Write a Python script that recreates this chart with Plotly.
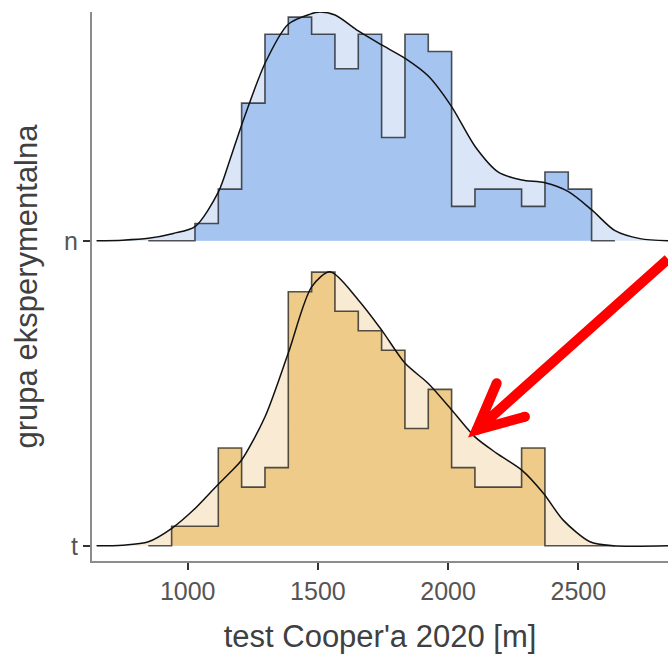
import plotly.graph_objects as go

# ---------------- data ----------------
groups = ["t", "n"]                     # y categories (bottom -> top)
group_pos = {"t": 1, "n": 2}

bin_start = 848.7                       # first histogram bin edge [m]
bin_width = 89.6                        # histogram bin width [m]
counts_n = [0, 0, 1, 3, 8, 12, 13, 12, 10, 12, 6, 12, 11, 2, 3, 3, 2, 4, 3, 0]
counts_t = [0, 1, 1, 5, 3, 4, 13, 14, 12, 11, 10, 6, 8, 4, 3, 3, 5, 0, 0, 0]

# density curves (height in ridge units)
dens_x_n = [650, 750, 849, 945, 1028, 1118, 1162, 1207, 1297, 1386, 1470, 1508, 1566,
            1655, 1745, 1835, 1924, 2014, 2103, 2193, 2283, 2372, 2462, 2552, 2641,
            2737, 2845]
dens_h_n = [0.0, 0.002, 0.008, 0.024, 0.046, 0.160, 0.265, 0.379, 0.582, 0.710, 0.743,
            0.750, 0.740, 0.688, 0.642, 0.598, 0.540, 0.439, 0.310, 0.225, 0.199,
            0.190, 0.161, 0.101, 0.033, 0.007, 0.0]

dens_x_t = [650, 750, 849, 939, 1022, 1111, 1159, 1207, 1297, 1386, 1476, 1547, 1655,
            1745, 1835, 1924, 2014, 2103, 2187, 2283, 2366, 2442, 2545, 2634, 2845]
dens_h_t = [0.0, 0.002, 0.013, 0.057, 0.117, 0.196, 0.237, 0.281, 0.423, 0.631, 0.849,
            0.898, 0.806, 0.707, 0.598, 0.532, 0.445, 0.357, 0.303, 0.248, 0.172,
            0.084, 0.013, 0.0, 0.0]

x_ticks = [1000, 1500, 2000, 2500]
x_title = "test Cooper'a 2020 [m]"
y_title = "grupa eksperymentalna"

# ---------------- style ----------------
HIST_SCALE = 6.6
X_RANGE = [632.5, 2844.5]
Y_RANGE = [0.95, 2.75]
FONT = "Liberation Sans, Arial, sans-serif"
colors = {
    "n": {"dark": "#A5C4F0", "light": "#DAE5F7"},
    "t": {"dark": "#EECB88", "light": "#F8EAD3"},
}

data = {
    "n": (counts_n, dens_x_n, dens_h_n),
    "t": (counts_t, dens_x_t, dens_h_t),
}

fig = go.Figure()

for g in ["n", "t"]:
    counts, dx, dh = data[g]
    b = group_pos[g]
    N = sum(counts)
    edges = [bin_start + i * bin_width for i in range(len(counts) + 1)]
    hx = [edges[0]] + edges[1:] + [edges[-1]]
    hy = [b] + [b + HIST_SCALE * c / N for c in counts] + [b]

    # baseline for density fill
    fig.add_trace(go.Scatter(x=[X_RANGE[0], X_RANGE[1]], y=[b, b], mode="lines",
                             line=dict(width=0, color="rgba(0,0,0,0)"),
                             hoverinfo="skip", showlegend=False))
    # light density fill
    fig.add_trace(go.Scatter(x=dx, y=[b + v for v in dh], mode="lines",
                             line=dict(width=0, shape="spline", smoothing=0.8,
                                       color="rgba(0,0,0,0)"),
                             fill="tonexty", fillcolor=colors[g]["light"],
                             hoverinfo="skip", showlegend=False))
    # histogram fill
    fig.add_trace(go.Scatter(x=hx, y=hy, mode="lines",
                             line=dict(width=0, shape="vh", color="rgba(0,0,0,0)"),
                             fill="toself", fillcolor=colors[g]["dark"],
                             hoverinfo="skip", showlegend=False))
    # histogram outline
    fig.add_trace(go.Scatter(x=hx, y=hy, mode="lines",
                             line=dict(width=1.6, shape="vh", color="rgba(20,20,20,0.72)"),
                             hoverinfo="skip", showlegend=False))
    # density line
    fig.add_trace(go.Scatter(x=dx, y=[b + v for v in dh], mode="lines",
                             line=dict(width=1.5, shape="spline", smoothing=0.8,
                                       color="#111111"),
                             hoverinfo="skip", showlegend=False))

# red arrow annotation (paper coordinates)
red = "#FF0000"
tip = (0.6679, 0.2386)
tail = (1.0, 0.5501)
arm1 = (0.7026, 0.3237)
arm2 = (0.7517, 0.2628)
path = (f"M {tail[0]},{tail[1]} L {tip[0]},{tip[1]} "
        f"M {arm1[0]},{arm1[1]} L {tip[0]},{tip[1]} L {arm2[0]},{arm2[1]}")
shapes = [dict(type="path", xref="paper", yref="paper", path=path,
               line=dict(color=red, width=10))]
for (px, py) in [tip, arm1, arm2]:
    shapes.append(dict(type="circle", xref="paper", yref="paper",
                       xsizemode="pixel", ysizemode="pixel", xanchor=px, yanchor=py,
                       x0=-5, x1=5, y0=-5, y1=5, fillcolor=red,
                       line=dict(width=0)))

fig.update_layout(
    width=668, height=656,
    margin=dict(l=92, r=0, t=12, b=95),
    paper_bgcolor="white", plot_bgcolor="white",
    font=dict(family=FONT, color="#4D4D4D"),
    shapes=shapes,
    showlegend=False,
    xaxis=dict(range=X_RANGE, tickvals=x_ticks, ticktext=[str(v) for v in x_ticks],
               showgrid=False, zeroline=False, showline=True, linecolor="#8C8C8C",
               linewidth=2, ticks="outside", ticklen=7, tickwidth=2, tickcolor="#333333",
               tickfont=dict(size=25, color="#555555", family=FONT),
               title=dict(text=x_title, font=dict(size=31, color="#404040", family=FONT),
                          standoff=21)),
    yaxis=dict(range=Y_RANGE, tickvals=[group_pos[g] for g in groups], ticktext=groups,
               showgrid=False, zeroline=False, showline=True, linecolor="#8C8C8C",
               linewidth=2, ticks="outside", ticklen=7, tickwidth=2, tickcolor="#333333",
               tickfont=dict(size=25, color="#555555", family=FONT),
               title=dict(text=y_title, font=dict(size=31, color="#404040", family=FONT),
                          standoff=17)),
)

fig.write_html("out.html")
